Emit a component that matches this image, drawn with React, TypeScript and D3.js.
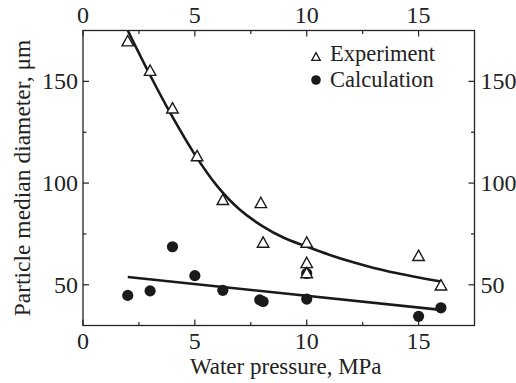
import React from 'react';
import * as d3 from 'd3';

// measured points, water pressure (MPa) vs particle median diameter (um)
const expX = [2, 3, 4, 5.1, 6.25, 7.95, 8.05, 10, 10, 10, 15, 16];
const expY = [170, 155.5, 137, 113.5, 92, 90.5, 71, 71, 61, 56, 64.5, 50];

const calcX = [2, 3, 4, 5, 6.25, 7.9, 8.05, 10, 10, 15, 16];
const calcY = [44.8, 47, 68.7, 54.5, 47.3, 42.6, 41.8, 43, 55.6, 34.5, 38.7];

// fitted curves
const fitExpX = [2, 3, 4, 5, 6, 7, 8, 9, 10, 11, 12, 13, 14, 15, 16];
const fitExpY = [175, 153, 132.5, 114, 98.5, 87, 79, 73, 68.8, 64.8, 61.3, 58.3, 55.8, 53.6, 51.6];
const fitCalcX = [2, 16];
const fitCalcY = [53.8, 37.7];

const xTicks = [0, 5, 10, 15];
const xMinor = [2.5, 7.5, 12.5];
const yTicks = [50, 100, 150];
const yMinor = [75, 125];

const W = 516;
const H = 383;
const FONT = '"Liberation Serif", "Times New Roman", serif';

export default function App() {
  /* frame */
  const left = 83, right = 474.5, top = 30.5, bottom = 325.5;
  const MAJOR = 6, MINOR = 3.5;

  const x = d3.scaleLinear().domain([0, 17.5]).range([left, right]);
  const y = d3.scaleLinear().domain([30, 175]).range([bottom, top]);

  const line = d3.line<[number, number]>()
    .x(d => x(d[0]))
    .y(d => y(d[1]))
    .curve(d3.curveCatmullRom.alpha(0.5));

  const expFit = line(fitExpX.map((v, i) => [v, fitExpY[i]] as [number, number])) || '';
  const calcFit = line(fitCalcX.map((v, i) => [v, fitCalcY[i]] as [number, number])) || '';

  // 三角形
  const tri = (cx: number, cy: number, s: number) => {
    const h = s * 0.9;
    return `M${cx},${cy - h / 2}L${cx + s / 2},${cy + h / 2}L${cx - s / 2},${cy + h / 2}Z`;
  };

  return (
    <svg width={W} height={H} style={{ position: 'absolute', left: 0, top: 0, background: '#fff' }}
      fontFamily={FONT}>
      <defs>
        <clipPath id="plot">
          <rect x={left} y={top} width={right - left} height={bottom - top} />
        </clipPath>
      </defs>
      <rect x={0} y={0} width={W} height={H} fill="#fff" />

      {/* ticks */}
      <g stroke="#222" strokeWidth={1.2}>
        {xTicks.concat(xMinor).map(t => {
          const len = xTicks.includes(t) ? MAJOR : MINOR;
          return (
            <g key={'x' + t}>
              <line x1={x(t)} x2={x(t)} y1={bottom} y2={bottom - len} />
              <line x1={x(t)} x2={x(t)} y1={top} y2={top + len} />
            </g>
          );
        })}
        {yTicks.concat(yMinor).map(t => {
          const len = yTicks.includes(t) ? MAJOR : MINOR;
          return (
            <g key={'y' + t}>
              <line x1={left} x2={left + len} y1={y(t)} y2={y(t)} />
              <line x1={right} x2={right - len} y1={y(t)} y2={y(t)} />
            </g>
          );
        })}
      </g>

      {/* tick labels */}
      <g fontSize={24} fill="#222">
        {xTicks.map(t => (
          <g key={'xl' + t}>
            <text x={x(t)} y={348.5} textAnchor="middle">{t}</text>
            <text x={x(t)} y={23} textAnchor="middle">{t}</text>
          </g>
        ))}
        {yTicks.map(t => (
          <g key={'yl' + t}>
            <text x={left - 5} y={y(t) + 8} textAnchor="end">{t}</text>
            <text x={right + 6} y={y(t) + 8} textAnchor="start">{t}</text>
          </g>
        ))}
      </g>

      {/* axis titles */}
      <text x={(left + right) / 2 + 7} y={374} textAnchor="middle" fontSize={23} fill="#222">
        Water pressure, MPa
      </text>
      <text transform={`translate(30,${(top + bottom) / 2}) rotate(-90)`} textAnchor="middle"
        fontSize={23.5} fill="#222">
        Particle median diameter, μm
      </text>

      {/* fits */}
      <g clipPath="url(#plot)" fill="none" stroke="#1a1a1a" strokeWidth={2.6}>
        <path d={expFit} />
        <path d={calcFit} />
      </g>

      {/* points */}
      <g fill="#1a1a1a">
        {calcX.map((v, i) => (
          <circle key={'c' + i} cx={x(v)} cy={y(calcY[i])} r={5.6} />
        ))}
      </g>
      <g fill="#fff" stroke="#1a1a1a" strokeWidth={1.4} strokeLinejoin="miter">
        {expX.map((v, i) => (
          <path key={'t' + i} d={tri(x(v), y(expY[i]), 11.5)} />
        ))}
      </g>

      {/* legend */}
      <path d={tri(316, 56.5, 8.5)} fill="#fff" stroke="#1a1a1a" strokeWidth={1.3} />
      <text x={330} y={61} fontSize={22.5} fill="#222">Experiment</text>
      <circle cx={316} cy={80} r={4.8} fill="#1a1a1a" />
      <text x={330} y={87} fontSize={22.5} fill="#222">Calculation</text>

      {/* frame */}
      <rect x={left} y={top} width={right - left} height={bottom - top} fill="none"
        stroke="#222" strokeWidth={1.3} />
    </svg>
  );
}
